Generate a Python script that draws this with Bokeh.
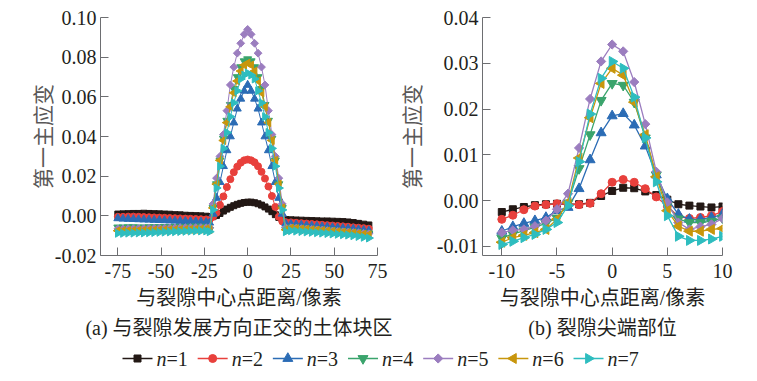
import numpy as np
from bokeh.plotting import figure
from bokeh.models import FixedTicker, PrintfTickFormatter, Title, Range1d
from bokeh.core.properties import value
from bokeh.layouts import column, row
from bokeh.embed import file_html
from bokeh.resources import INLINE

# ---------------- data: panel (a) ----------------
xa = [-75, -72, -69, -66, -63, -60, -57, -54, -51, -48, -45, -42, -39, -36, -33, -30, -27, -24,
      -22, -20, -18, -16, -14, -12, -10, -8, -6, -4, -2, 0, 2, 4, 6, 8, 10, 12, 14, 16, 18, 20, 22,
      25, 28, 31, 34, 37, 40, 43, 46, 49, 52, 55, 58, 61, 64, 67, 70]

a_n1 = [0.0009, 0.0010, 0.0011, 0.0012, 0.0012, 0.0013, 0.0012, 0.0011, 0.0010, 0.0009, 0.0008, 0.0006, 0.0005, 0.0003, 0.0002, 0.0001, 0.0000, -0.0002,
        -0.0004, -0.0004, 0.0002, 0.0012, 0.0024, 0.0034, 0.0043, 0.0051, 0.0058, 0.0063, 0.0067, 0.0069, 0.0069, 0.0066, 0.0061, 0.0054, 0.0045, 0.0034, 0.0021, 0.0006, -0.0008, -0.0016, -0.0019,
        -0.0020, -0.0021, -0.0022, -0.0023, -0.0024, -0.0025, -0.0026, -0.0026, -0.0027, -0.0028, -0.0029, -0.0031, -0.0034, -0.0038, -0.0042, -0.0046]
a_n2 = [-0.0005, -0.0005, -0.0004, -0.0004, -0.0005, -0.0006, -0.0007, -0.0008, -0.0009, -0.0010, -0.0011, -0.0012, -0.0013, -0.0014, -0.0015, -0.0016, -0.0017, -0.0018,
        -0.0020, -0.0005, 0.0015, 0.0055, 0.0098, 0.0145, 0.0185, 0.0220, 0.0248, 0.0268, 0.0280, 0.0284, 0.0280, 0.0270, 0.0250, 0.0222, 0.0188, 0.0148, 0.0100, 0.0045, -0.0005, -0.0028, -0.0032,
        -0.0033, -0.0035, -0.0037, -0.0039, -0.0041, -0.0043, -0.0045, -0.0047, -0.0049, -0.0051, -0.0053, -0.0055, -0.0058, -0.0060, -0.0062, -0.0065]
a_n3 = [-0.0013, -0.0015, -0.0016, -0.0017, -0.0018, -0.0019, -0.0020, -0.0021, -0.0022, -0.0023, -0.0024, -0.0025, -0.0026, -0.0027, -0.0028, -0.0029, -0.0030, -0.0032,
        -0.0035, 0.0010, 0.0090, 0.0170, 0.0250, 0.0330, 0.0400, 0.0470, 0.0540, 0.0590, 0.0630, 0.0660, 0.0630, 0.0590, 0.0540, 0.0470, 0.0400, 0.0330, 0.0250, 0.0170, 0.0090, 0.0010, -0.0040,
        -0.0042, -0.0044, -0.0046, -0.0048, -0.0050, -0.0052, -0.0054, -0.0056, -0.0058, -0.0060, -0.0062, -0.0064, -0.0066, -0.0069, -0.0072, -0.0075]
a_n4 = [-0.0058, -0.0058, -0.0057, -0.0057, -0.0058, -0.0058, -0.0057, -0.0057, -0.0056, -0.0056, -0.0056, -0.0055, -0.0055, -0.0055, -0.0054, -0.0054, -0.0054, -0.0055,
        -0.0070, 0.0040, 0.0160, 0.0280, 0.0390, 0.0480, 0.0560, 0.0640, 0.0700, 0.0750, 0.0780, 0.0790, 0.0780, 0.0750, 0.0700, 0.0640, 0.0560, 0.0480, 0.0390, 0.0280, 0.0160, 0.0040, -0.0070,
        -0.0058, -0.0060, -0.0062, -0.0064, -0.0066, -0.0068, -0.0070, -0.0072, -0.0074, -0.0076, -0.0078, -0.0080, -0.0082, -0.0084, -0.0086, -0.0088]
a_n5 = [-0.0066, -0.0066, -0.0065, -0.0065, -0.0064, -0.0064, -0.0063, -0.0063, -0.0062, -0.0062, -0.0061, -0.0061, -0.0060, -0.0060, -0.0060, -0.0059, -0.0059, -0.0060,
        -0.0060, 0.0060, 0.0190, 0.0300, 0.0410, 0.0530, 0.0660, 0.0750, 0.0820, 0.0870, 0.0915, 0.0940, 0.0915, 0.0870, 0.0820, 0.0750, 0.0660, 0.0530, 0.0410, 0.0300, 0.0190, 0.0060, -0.0060,
        -0.0060, -0.0062, -0.0064, -0.0066, -0.0068, -0.0070, -0.0072, -0.0074, -0.0076, -0.0078, -0.0080, -0.0082, -0.0084, -0.0086, -0.0088, -0.0090]
a_n6 = [-0.0075, -0.0075, -0.0074, -0.0074, -0.0073, -0.0073, -0.0072, -0.0072, -0.0071, -0.0071, -0.0070, -0.0070, -0.0069, -0.0069, -0.0068, -0.0068, -0.0067, -0.0067,
        -0.0070, 0.0040, 0.0160, 0.0280, 0.0380, 0.0470, 0.0550, 0.0620, 0.0680, 0.0730, 0.0760, 0.0770, 0.0760, 0.0730, 0.0680, 0.0620, 0.0550, 0.0470, 0.0380, 0.0280, 0.0160, 0.0040, -0.0070,
        -0.0062, -0.0064, -0.0066, -0.0068, -0.0070, -0.0072, -0.0074, -0.0076, -0.0078, -0.0080, -0.0082, -0.0084, -0.0086, -0.0089, -0.0092, -0.0095]
a_n7 = [-0.0088, -0.0088, -0.0087, -0.0087, -0.0086, -0.0086, -0.0085, -0.0084, -0.0083, -0.0082, -0.0081, -0.0080, -0.0079, -0.0078, -0.0077, -0.0076, -0.0076, -0.0076,
        -0.0080, 0.0030, 0.0140, 0.0250, 0.0340, 0.0420, 0.0500, 0.0570, 0.0630, 0.0690, 0.0710, 0.0720, 0.0710, 0.0690, 0.0630, 0.0570, 0.0500, 0.0420, 0.0340, 0.0250, 0.0140, 0.0030, -0.0080,
        -0.0075, -0.0077, -0.0079, -0.0081, -0.0083, -0.0085, -0.0087, -0.0089, -0.0091, -0.0093, -0.0095, -0.0097, -0.0100, -0.0104, -0.0108, -0.0112]

# ---------------- data: panel (b) ----------------
xb = [-10, -9, -8, -7, -6, -5, -4, -3, -2, -1, 0, 1, 2, 3, 4, 5, 6, 7, 8, 9, 10]
b_n1 = [-0.0025, -0.0019, -0.0014, -0.0010, -0.0008, -0.0007, -0.0008, -0.0008, -0.0005, 0.0010, 0.0021, 0.0028, 0.0027, 0.0020, 0.0012, 0.0002, -0.0008, -0.0011, -0.0013, -0.0015, -0.0013]
b_n2 = [-0.0041, -0.0032, -0.0020, -0.0012, -0.0009, -0.0007, -0.0008, -0.0009, -0.0006, 0.0015, 0.0040, 0.0046, 0.0040, 0.0026, 0.0008, -0.0012, -0.0035, -0.0039, -0.0037, -0.0033, -0.0024]
b_n3 = [-0.0067, -0.0057, -0.0050, -0.0044, -0.0037, -0.0022, -0.0015, 0.0026, 0.0089, 0.0148, 0.0185, 0.0190, 0.0165, 0.0119, 0.0056, 0.0004, -0.0030, -0.0041, -0.0041, -0.0037, -0.0030]
b_n4 = [-0.0082, -0.0073, -0.0066, -0.0058, -0.0050, -0.0038, -0.0005, 0.0070, 0.0144, 0.0219, 0.0256, 0.0252, 0.0215, 0.0137, 0.0056, -0.0010, -0.0040, -0.0048, -0.0048, -0.0045, -0.0038]
b_n5 = [-0.0070, -0.0065, -0.0063, -0.0056, -0.0044, -0.0019, 0.0015, 0.0115, 0.0222, 0.0304, 0.0341, 0.0326, 0.0259, 0.0167, 0.0063, -0.0004, -0.0048, -0.0063, -0.0057, -0.0052, -0.0039]
b_n6 = [-0.0091, -0.0081, -0.0076, -0.0070, -0.0063, -0.0041, -0.0004, 0.0093, 0.0181, 0.0256, 0.0289, 0.0274, 0.0215, 0.0144, 0.0052, -0.0022, -0.0056, -0.0067, -0.0067, -0.0063, -0.0061]
b_n7 = [-0.0096, -0.0089, -0.0081, -0.0074, -0.0063, -0.0048, -0.0011, 0.0085, 0.0189, 0.0267, 0.0304, 0.0289, 0.0226, 0.0137, 0.0041, -0.0033, -0.0078, -0.0087, -0.0087, -0.0084, -0.0078]

series_n = ["1", "2", "3", "4", "5", "6", "7"]
colors = ["#231815", "#e8403c", "#2b6cb5", "#3aa46c", "#9b7dbf", "#c8960c", "#2ebdbf"]
markers = ["square", "circle", "triangle", "inverted_triangle", "square", "triangle", "triangle"]
angles = [0, 0, 0, 0, np.pi / 4, np.pi / 2, -np.pi / 2]
size_a = [6, 7, 8, 8, 5.5, 8, 8]
size_b = [7, 8, 10, 10, 6.5, 10, 10]

SERIF = "'Liberation Serif'"
TITLE_FONT = "'Liberation Serif', 'Noto Sans CJK SC'"
TXT = "#231f20"
AXC = "#6d6e71"


def style(p, xticks, yticks, xfmt, yfmt, ystand):
    p.xaxis.ticker = FixedTicker(ticks=xticks)
    p.yaxis.ticker = FixedTicker(ticks=yticks)
    p.xaxis.formatter = PrintfTickFormatter(format=xfmt)
    p.yaxis.formatter = PrintfTickFormatter(format=yfmt)
    for ax in p.axis:
        ax.major_tick_in = 8
        ax.major_tick_out = 0
        ax.minor_tick_line_color = None
        ax.axis_line_color = AXC
        ax.major_tick_line_color = AXC
        ax.major_label_text_font = SERIF
        ax.major_label_text_font_size = "20px"
        ax.major_label_text_color = TXT
    p.xaxis.major_label_standoff = 8
    p.yaxis.major_label_standoff = 4
    p.yaxis.axis_label = "第一主应变"
    p.yaxis.axis_label_text_font = "Noto Sans CJK SC"
    p.yaxis.axis_label_text_font_size = "21px"
    p.yaxis.axis_label_text_font_style = "normal"
    p.yaxis.axis_label_text_color = "#595757"
    p.yaxis.axis_label_standoff = ystand
    p.xgrid.visible = False
    p.ygrid.visible = False
    p.outline_line_color = None
    p.background_fill_color = None
    p.border_fill_color = None


def add_titles(p, line1, line2, off1, off2):
    t1 = Title(text=line1, align="center", text_font=TITLE_FONT, text_font_size="20px",
               text_font_style="normal", text_color=TXT, offset=off1, standoff=9)
    t2 = Title(text=line2, align="center", text_font=TITLE_FONT, text_font_size="20px",
               text_font_style="normal", text_color=TXT, offset=off2, standoff=3)
    p.add_layout(t1, "below")
    p.add_layout(t2, "below")


pa = figure(width=392, height=340, output_backend="svg", toolbar_location=None,
            x_range=Range1d(-85, 75), y_range=Range1d(-0.02, 0.10),
            min_border_left=100, min_border_right=15, min_border_top=15, min_border_bottom=0)
style(pa, [-75, -50, -25, 0, 25, 50, 75], [-0.02, 0, 0.02, 0.04, 0.06, 0.08, 0.10], "%d", "%.2f", -5)
ys_a = [a_n1, a_n2, a_n3, a_n4, a_n5, a_n6, a_n7]
for i in range(7):
    pa.line(xa, ys_a[i], line_color=colors[i], line_width=1)
    pa.scatter(xa, ys_a[i], marker=markers[i], size=size_a[i], angle=angles[i],
               fill_color=colors[i], line_color=colors[i])
add_titles(pa, "与裂隙中心点距离/像素", "(a) 与裂隙发展方向正交的土体块区", 5, -12)

pb = figure(width=362, height=340, output_backend="svg", toolbar_location=None,
            x_range=Range1d(-11.75, 10), y_range=Range1d(-0.012, 0.04),
            min_border_left=78, min_border_right=32, min_border_top=17, min_border_bottom=0)
style(pb, [-10, -5, 0, 5, 10], [-0.01, 0, 0.01, 0.02, 0.03, 0.04], "%d", "%.2f", 8)
ys_b = [b_n1, b_n2, b_n3, b_n4, b_n5, b_n6, b_n7]
for i in range(7):
    pb.line(xb, ys_b[i], line_color=colors[i], line_width=1.3)
    pb.scatter(xb, ys_b[i], marker=markers[i], size=size_b[i], angle=angles[i],
               fill_color=colors[i], line_color=colors[i])
add_titles(pb, "与裂隙中心点距离/像素", "(b) 裂隙尖端部位", 9, 11)

# legend strip, drawn in pixel-like units so rotated markers keep their direction
pl = figure(width=740, height=32, output_backend="svg", toolbar_location=None,
            x_axis_type=None, y_axis_type=None, min_border=0,
            x_range=Range1d(0, 740), y_range=Range1d(0, 32))
pl.grid.visible = False
pl.outline_line_color = None
pl.background_fill_color = None
pl.border_fill_color = None
LEG_X0, LEG_STEP, LEG_Y = 122, 75.17, 14
for i in range(7):
    x0 = LEG_X0 + LEG_STEP * i
    pl.line([x0, x0 + 30], [LEG_Y, LEG_Y], line_color=colors[i], line_width=1.5)
    pl.scatter([x0 + 15], [LEG_Y], marker=markers[i], size=size_b[i], angle=angles[i],
               fill_color=colors[i], line_color=colors[i])
    pl.text([x0 + 34], [LEG_Y], text=["n"], text_font=value("Liberation Serif"),
            text_font_style="italic", text_font_size="20px", text_color=TXT,
            text_baseline="middle", text_align="left")
    pl.text([x0 + 44], [LEG_Y], text=["=" + series_n[i]], text_font=value("Liberation Serif"),
            text_font_size="20px", text_color=TXT, text_baseline="middle", text_align="left")

layout = column(row(pa, pb, spacing=0), pl, spacing=0)
open("out.html", "w").write(file_html(layout, INLINE))
